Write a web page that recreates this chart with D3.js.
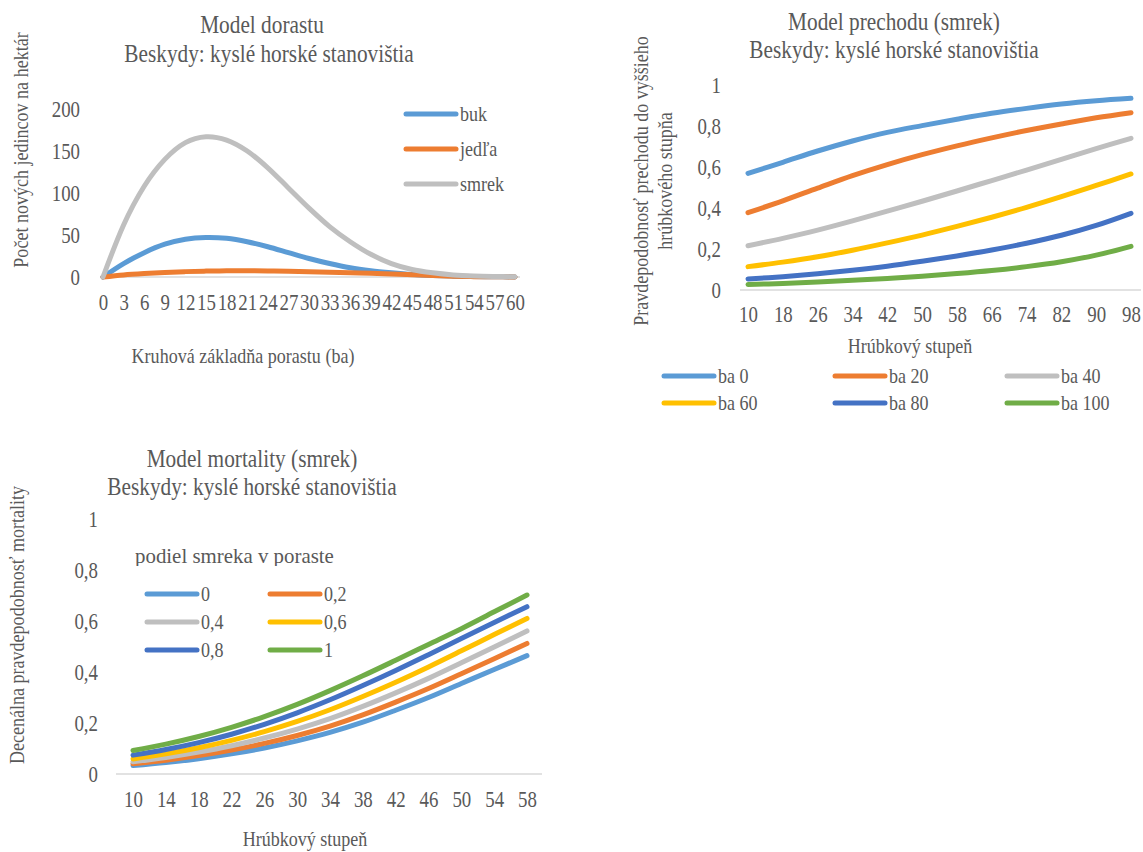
<!DOCTYPE html>
<html>
<head>
<meta charset="utf-8">
<script src="https://cdn.jsdelivr.net/npm/d3@7"></script>
<style>
  body { margin: 0; background: #fff; }
  svg text { font-family: "Liberation Serif", "Times New Roman", serif; fill: #595959; }
</style>
</head>
<body>
<svg id="chart" width="1143" height="852"></svg>
<script>
// ---- Model dorastu: new individuals per hectare vs basal area ----
const regenBA = [0, 3, 6, 9, 12, 15, 18, 21, 24, 27, 30, 33, 36, 39, 42, 45, 48, 51, 54, 57, 60];
const regenBuk = [0, 16, 29, 39, 45, 47, 46, 42, 36, 29, 22, 16, 11, 7.5, 5, 3, 1.8, 1, 0.5, 0.3, 0.1];
const regenJedla = [0, 2.5, 4.2, 5.5, 6.4, 7, 7.3, 7.4, 7.2, 6.8, 6.2, 5.6, 5, 4.4, 3.7, 2.7, 1.7, 0.9, 0.4, 0.2, 0.1];
const regenSmrek = [0, 62, 108, 140, 160, 167, 163, 150, 130, 106, 82, 60, 42, 27, 16, 9, 5, 2.5, 1.2, 0.6, 0.3];
const regenNames = ["buk", "jedľa", "smrek"];
const regenTicks = [0, 50, 100, 150, 200];

// ---- Model prechodu (smrek): transition probability vs diameter class ----
const transDiam = [10, 18, 26, 34, 42, 50, 58, 66, 74, 82, 90, 98];
const transBa0   = [0.569, 0.623, 0.678, 0.727, 0.769, 0.802, 0.833, 0.862, 0.886, 0.907, 0.923, 0.935];
const transBa20  = [0.377, 0.435, 0.497, 0.558, 0.612, 0.660, 0.703, 0.742, 0.778, 0.810, 0.840, 0.865];
const transBa40  = [0.216, 0.252, 0.292, 0.337, 0.385, 0.433, 0.483, 0.534, 0.585, 0.637, 0.690, 0.740];
const transBa60  = [0.114, 0.136, 0.162, 0.194, 0.230, 0.268, 0.310, 0.355, 0.403, 0.455, 0.510, 0.566];
const transBa80  = [0.054, 0.065, 0.079, 0.096, 0.116, 0.140, 0.166, 0.195, 0.228, 0.267, 0.315, 0.374];
const transBa100 = [0.027, 0.032, 0.039, 0.047, 0.056, 0.067, 0.080, 0.095, 0.114, 0.138, 0.170, 0.213];
const transNames = ["ba 0", "ba 20", "ba 40", "ba 60", "ba 80", "ba 100"];
const probTicks = [0, 0.2, 0.4, 0.6, 0.8, 1];

// ---- Model mortality (smrek): decennial mortality vs diameter class ----
const mortDiam = [10, 14, 18, 22, 26, 30, 34, 38, 42, 46, 50, 54, 58];
const mortP0  = [0.033, 0.045, 0.060, 0.079, 0.102, 0.130, 0.163, 0.203, 0.250, 0.300, 0.355, 0.410, 0.464];
const mortP02 = [0.040, 0.054, 0.072, 0.094, 0.120, 0.151, 0.188, 0.232, 0.282, 0.335, 0.393, 0.452, 0.512];
const mortP04 = [0.048, 0.065, 0.086, 0.111, 0.141, 0.176, 0.217, 0.265, 0.318, 0.375, 0.436, 0.498, 0.561];
const mortP06 = [0.059, 0.079, 0.103, 0.132, 0.166, 0.206, 0.252, 0.304, 0.360, 0.420, 0.483, 0.547, 0.610];
const mortP08 = [0.074, 0.096, 0.123, 0.156, 0.195, 0.240, 0.291, 0.347, 0.406, 0.468, 0.531, 0.594, 0.656];
const mortP1  = [0.092, 0.117, 0.147, 0.183, 0.225, 0.273, 0.327, 0.385, 0.446, 0.508, 0.570, 0.636, 0.702];
const mortNames = ["0", "0,2", "0,4", "0,6", "0,8", "1"];

const colors6 = ["#5B9BD5", "#ED7D31", "#BFBFBF", "#FFC000", "#4472C4", "#70AD47"];
const colors3 = ["#5B9BD5", "#ED7D31", "#BFBFBF"];

const SX = 0.82;            // horizontal squeeze of all text
const svg = d3.select("#chart");
const fmt = d => String(d).replace(".", ",");

function label(g, x, y, s, o = {}) {
  const sx = o.sx || SX;
  return g.append("text")
    .attr("transform", `translate(${x},${y})${o.rotate ? ` rotate(${o.rotate})` : ""} scale(${sx},1)`)
    .attr("text-anchor", o.anchor || "middle")
    .attr("dy", o.dy || null)
    .style("font-size", (o.size || 22) + "px")
    .text(s);
}

function leftAxis(g, y, ticks, xRight, format) {
  const ax = g.append("g").attr("transform", `translate(${xRight},0)`)
    .call(d3.axisLeft(y).tickValues(ticks).tickSize(0).tickFormat(format));
  ax.select(".domain").remove();
  ax.selectAll("text").attr("x", null).attr("dy", "0.34em")
    .attr("transform", `scale(${SX},1)`).attr("text-anchor", "end")
    .style("font-size", "23px").attr("fill", null);
}

function bottomAxis(g, x, yBase, lineY, pad) {
  const [a, b] = x.range();
  g.append("line").attr("x1", a - pad[0]).attr("x2", b + pad[1])
    .attr("y1", lineY).attr("y2", lineY)
    .attr("stroke", "#D9D9D9").attr("stroke-width", 1.5);
  const ax = g.append("g").attr("transform", `translate(0,${yBase})`)
    .call(d3.axisBottom(x).tickSize(0));
  ax.select(".domain").remove();
  ax.selectAll("text").attr("y", null).attr("dy", null)
    .attr("transform", `scale(${SX},1)`)
    .style("font-size", "23px").attr("fill", null);
}

function drawLines(g, x, y, cats, series, colors) {
  const line = d3.line().x((d, i) => x(cats[i])).y(d => y(d)).curve(d3.curveCardinal.tension(0));
  series.forEach((s, k) => {
    g.append("path").attr("d", line(s)).attr("fill", "none")
      .attr("stroke", colors[k]).attr("stroke-width", 5)
      .attr("stroke-linecap", "round").attr("stroke-linejoin", "round");
  });
}

function legendItem(g, x, y, name, color) {
  g.append("line").attr("x1", x).attr("x2", x + 50).attr("y1", y).attr("y2", y)
    .attr("stroke", color).attr("stroke-width", 5).attr("stroke-linecap", "round");
  label(g, x + 54, y, name, { anchor: "start", dy: "0.34em", size: 22 });
}

// ================= Chart 1 =================
{
  const g = svg.append("g");
  const x = d3.scalePoint().domain(regenBA).range([103, 515]);
  const y = d3.scaleLinear().domain([0, 200]).range([277, 109]);
  label(g, 262, 33, "Model dorastu", { size: 26 });
  label(g, 269, 62, "Beskydy: kyslé horské stanovištia", { size: 26 });
  label(g, 28, 150, "Počet nových jedincov na hektár", { rotate: -90 });
  leftAxis(g, y, regenTicks, 80, d => d);
  bottomAxis(g, x, 310, 277, [3, 5]);
  label(g, 243, 363, "Kruhová základňa porastu (ba)");
  drawLines(g, x, y, regenBA, [regenBuk, regenJedla, regenSmrek], colors3);
  regenNames.forEach((n, i) => legendItem(g, 406, [114, 149, 184][i], n, colors3[i]));
}

// ================= Chart 2 =================
{
  const g = svg.append("g");
  const x = d3.scalePoint().domain(transDiam).range([748, 1131]);
  const y = d3.scaleLinear().domain([0, 1]).range([290, 85]);
  label(g, 894, 30, "Model prechodu (smrek)", { size: 26 });
  label(g, 894, 58, "Beskydy: kyslé horské stanovištia", { size: 26 });
  label(g, 641, 181, "Pravdepodobnosť prechodu do vyššieho", { rotate: -90, dy: "0.34em" });
  label(g, 665, 181, "hrúbkového stupňa", { rotate: -90, dy: "0.34em" });
  leftAxis(g, y, probTicks, 721, fmt);
  bottomAxis(g, x, 322, 290, [8, 10]);
  label(g, 910, 353, "Hrúbkový stupeň");
  drawLines(g, x, y, transDiam, [transBa0, transBa20, transBa40, transBa60, transBa80, transBa100], colors6);
  const cols = [664, 835, 1007], rows = [376, 403];
  transNames.forEach((n, i) => legendItem(g, cols[i % 3], rows[Math.floor(i / 3)], n, colors6[i]));
}

// ================= Chart 3 =================
{
  const g = svg.append("g");
  const x = d3.scalePoint().domain(mortDiam).range([133, 527]);
  const y = d3.scaleLinear().domain([0, 1]).range([774, 519]);
  label(g, 252, 467, "Model mortality (smrek)", { size: 26 });
  label(g, 252, 495, "Beskydy: kyslé horské stanovištia", { size: 26 });
  label(g, 24, 625, "Decenálna pravdepodobnosť mortality", { rotate: -90 });
  leftAxis(g, y, probTicks, 98, fmt);
  bottomAxis(g, x, 807, 774, [17, 15]);
  label(g, 305, 846, "Hrúbkový stupeň");
  drawLines(g, x, y, mortDiam, [mortP0, mortP02, mortP04, mortP06, mortP08, mortP1], colors6);

  // legend title, clipped just below its baseline
  svg.append("defs").append("clipPath").attr("id", "legTitleClip")
    .append("rect").attr("x", 100).attr("y", 530).attr("width", 300).attr("height", 36);
  const tg = g.append("g").attr("clip-path", "url(#legTitleClip)");
  label(tg, 135, 563, "podiel smreka v poraste", { anchor: "start", sx: 0.95 });
  const cols = [147, 270], rows = [594, 622, 650];
  mortNames.forEach((n, i) => legendItem(g, cols[i % 2], rows[Math.floor(i / 2)], n, colors6[i]));
}
</script>
</body>
</html>
